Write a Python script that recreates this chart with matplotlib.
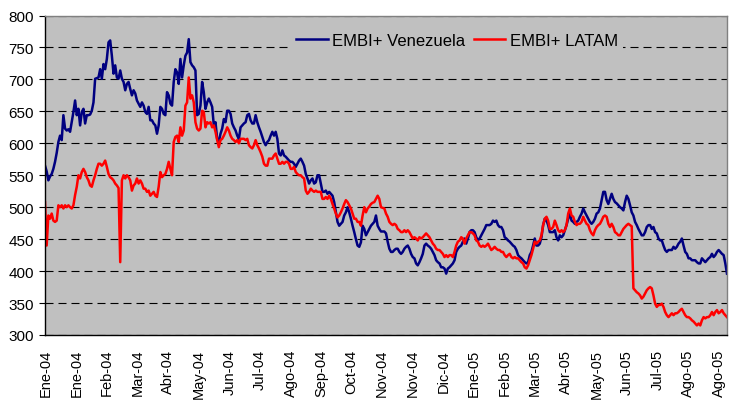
import numpy as np
import matplotlib.pyplot as plt

# EMBI+ spreads (bps), one value per trading day
venezuela = [
    565, 556, 542, 548, 552, 560, 571, 585, 602, 612, 605, 644, 623, 620, 622, 618, 633, 649, 667, 644,
    654, 628, 649, 654, 631, 644, 644, 645, 651, 664, 701, 702, 703, 716, 701, 724, 716, 732, 758, 761,
    737, 709, 722, 703, 701, 714, 701, 696, 683, 693, 696, 685, 675, 683, 678, 667, 662, 657, 664, 659,
    649, 646, 657, 636, 636, 631, 628, 615, 628, 657, 654, 646, 644, 680, 675, 662, 659, 696, 716, 711,
    693, 732, 703, 722, 737, 742, 763, 727, 722, 719, 714, 644, 646, 659, 696, 680, 654, 664, 670, 664,
    657, 628, 633, 607, 602, 615, 623, 638, 633, 651, 651, 646, 631, 625, 620, 612, 607, 625, 628, 631,
    633, 644, 646, 636, 631, 631, 644, 633, 625, 618, 610, 602, 597, 602, 605, 612, 618, 612, 618, 607,
    584, 581, 589, 581, 579, 576, 573, 571, 571, 568, 563, 568, 573, 576, 571, 565, 552, 545, 537, 542,
    545, 537, 539, 550, 550, 537, 524, 524, 526, 521, 524, 521, 518, 508, 492, 477, 471, 474, 477, 487,
    492, 500, 492, 482, 471, 461, 450, 440, 438, 445, 471, 466, 456, 461, 466, 471,
    474, 477, 487, 471, 466, 462, 462, 462,
    459, 446, 435, 430, 430, 433, 435, 435, 430, 427, 430, 435, 438, 440, 435, 427, 422, 420, 412, 409,
    414, 420, 427, 440, 443, 440, 438, 435, 430, 425, 417, 414, 412, 406, 406, 404, 396, 404, 406, 409,
    412, 417, 430, 435, 438, 440, 446, 451, 443, 451, 461, 464, 464, 461, 453, 448, 451, 456, 461, 466,
    472, 472, 472, 474, 479, 477, 479, 472, 469,
    469, 464, 453, 451, 448, 446, 443, 440, 438, 433, 425, 422, 420, 417, 414, 412, 414, 425, 430, 440,
    451, 440, 440, 443, 453, 472, 482, 479, 472, 461, 461, 461, 464, 453, 448, 456, 453, 456, 464, 472,
    482, 490, 479, 477, 474, 477, 479, 485, 490, 498, 492, 487, 482, 477, 474, 477, 482, 490, 492, 498,
    511, 524, 524, 511, 505, 513,
    521, 513, 508, 506, 503, 500, 498, 495, 508, 518, 513, 503, 492, 487, 477, 472, 466, 461, 456, 456,
    461, 469, 472, 472, 466, 469, 461, 459, 451, 448, 448, 440, 433, 430, 433, 433, 433, 438, 435, 438,
    443, 446, 451, 440, 430, 427, 420, 420, 417, 417, 417, 414, 412, 412, 420, 417, 414, 417, 420, 422,
    427, 422, 425, 430, 433, 430, 427, 425, 412, 396,
]

latam = [
    508, 440, 487, 482, 490, 479, 477, 479, 503, 500, 503, 498, 503, 500, 503, 500, 498, 503, 519, 532,
    550, 545, 555, 560, 555, 547, 542, 534, 532, 542, 550, 560, 568, 568, 565, 568, 573, 563, 552, 547,
    545, 542, 537, 534, 530, 414, 542, 550, 545, 550, 547, 542, 526, 534, 537, 545, 537, 542, 537, 529,
    529, 524, 526, 518, 521, 524, 518, 516, 532, 555, 547, 550, 552, 560, 571, 560, 550, 602, 610, 612,
    602, 625, 612, 620, 659, 664, 703, 670, 675, 664, 633, 623, 620, 623, 651, 649, 625, 633, 631, 633,
    625, 628, 618, 605, 594, 605, 607, 612, 618, 625, 620, 612, 607, 605, 602, 605, 600, 607, 607, 607,
    605, 607, 597, 594, 592, 597, 605, 597, 592, 586, 579, 568, 565, 565, 576, 576, 576, 581, 584, 576,
    568, 568, 571, 568, 571, 571, 568, 560, 560, 563, 555, 552, 550, 550, 547, 545, 526, 521, 524, 529,
    526, 524, 526, 524, 524, 524, 513, 513, 516, 513, 518, 513, 505, 498, 490, 484, 487, 492, 498, 505,
    511, 508, 503, 498, 490, 482, 482, 477, 477, 471, 487, 500, 492, 498, 501, 505,
    507, 508, 513, 518, 513, 500, 499, 498,
    490, 485, 477, 474, 472, 474, 472, 466, 464, 461, 461, 464, 461, 464, 461, 456, 451, 453, 451, 448,
    453, 451, 453, 456, 459, 456, 453, 448, 443, 440, 435, 433, 433, 430, 427, 422, 425, 422, 425, 425,
    422, 430, 440, 446, 448, 453, 451, 443, 451, 456, 461, 461, 459, 456, 448, 446, 440, 438, 440, 438,
    440, 443, 438, 433, 435, 438, 435, 433, 433,
    430, 430, 425, 422, 425, 427, 422, 420, 422, 420, 420, 417, 414, 412, 406, 404, 409, 417, 425, 435,
    446, 443, 446, 448, 456, 472, 482, 485, 479, 466, 466, 469, 479, 472, 464, 461, 464, 461, 464, 472,
    490, 498, 487, 485, 477, 472, 474, 474, 477, 485, 479, 474, 472, 464, 459, 456, 464, 469, 472, 474,
    479, 485, 487, 485, 474, 469,
    474, 469, 461, 459, 456, 456, 461, 466, 469, 472, 474, 472, 470, 373, 370, 367, 365, 362, 357, 360,
    365, 370, 373, 375, 373, 362, 349, 344, 347, 347, 349, 344, 336, 331, 328, 331, 334, 331, 334, 334,
    336, 339, 341, 336, 331, 328, 328, 326, 323, 321, 318, 315, 318, 315, 323, 328, 326, 328, 328, 331,
    336, 331, 336, 339, 334, 336, 339, 334, 331, 328,
]

month_labels = ["Ene-04", "Ene-04", "Feb-04", "Mar-04", "Abr-04", "May-04", "Jun-04", "Jul-04",
                "Ago-04", "Sep-04", "Oct-04", "Nov-04", "Nov-04", "Dic-04", "Ene-05", "Feb-05",
                "Mar-05", "Abr-05", "May-05", "Jun-05", "Jul-05", "Ago-05", "Ago-05"]

plt.rcParams['font.family'] = ['Liberation Sans', 'DejaVu Sans']

fig = plt.figure(figsize=(7.29, 4.02), dpi=100)
ax = fig.add_axes([45 / 729, 1 - 336 / 402, (727 - 45) / 729, (336 - 16.5) / 402])
ax.set_facecolor('#c0c0c0')

ax.plot(np.arange(len(venezuela)), venezuela, color='#000080', lw=1.8, label='EMBI+ Venezuela')
ax.plot(np.arange(len(latam)), latam, color='#ff0000', lw=1.8, label='EMBI+ LATAM')

n = max(len(venezuela), len(latam))
ax.set_xlim(0, n - 1)
ax.set_ylim(300, 800)
ax.set_yticks(range(300, 801, 50))

# category-style month labels spread across the axis
ax.set_xticks(np.linspace(0.5, n - 6, len(month_labels)))
ax.set_xticklabels(month_labels, rotation=90, va='top', ha='center')

ax.yaxis.grid(True, color='black', lw=0.8, linestyle=(0, (7.2, 4.5)))
ax.set_axisbelow(True)

for side in ['left', 'bottom']:
    ax.spines[side].set_color('black')
    ax.spines[side].set_linewidth(1.0)
for side in ['top', 'right']:
    ax.spines[side].set_color('#808080')
    ax.spines[side].set_linewidth(1.0)

ax.tick_params(axis='y', direction='out', length=4, width=0.8, labelsize=11, pad=4)
ax.tick_params(axis='x', length=0, labelsize=10.5, pad=10)

leg = ax.legend(loc='center', bbox_to_anchor=(0.627, 0.898), bbox_transform=fig.transFigure,
                ncol=2, frameon=True, facecolor='#c0c0c0', edgecolor='none', framealpha=1,
                fancybox=False, fontsize=12, handlelength=1.9, handletextpad=0.25,
                columnspacing=0.5, borderpad=0.3)

fig.savefig('out.png', dpi=100)
